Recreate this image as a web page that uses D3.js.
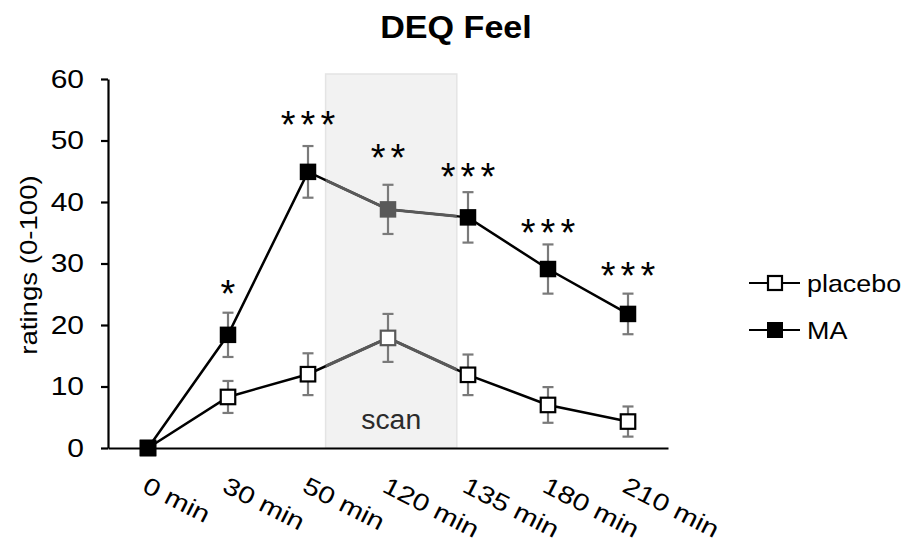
<!DOCTYPE html>
<html>
<head>
<meta charset="utf-8">
<script src="https://cdn.jsdelivr.net/npm/d3@7"></script>
<style>
  body { margin: 0; background: #fff; }
  svg { display: block; font-family: "Liberation Sans", Arial, sans-serif; }
</style>
</head>
<body>
<svg id="chart" width="913" height="546"></svg>
<script>
// data (means and error bars)
var categories = ["0 min", "30 min", "50 min", "120 min", "135 min", "180 min", "210 min"];
var placebo    = [0, 8.3, 12.0, 17.9, 11.9, 7.0, 4.3];
var placeboErr = [0, 2.6, 3.4, 3.9, 3.3, 2.9, 2.45];
var ma         = [0, 18.4, 44.9, 38.8, 37.5, 29.1, 21.8];
var maErr      = [0, 3.6, 4.2, 4.0, 4.1, 4.0, 3.3];
var sigLabels  = ["", "*", "***", "**", "***", "***", "***"];
var sigLevels  = [null, 26.3, 53.9, 48.5, 45.4, 36.3, 29.3];
var yTicks     = [0, 10, 20, 30, 40, 50, 60];
var scanFrom = "50 min", scanTo = "135 min";

var margin = {top: 79, right: 245, bottom: 98, left: 108};
var width = 913 - margin.left - margin.right;   // 560
var height = 546 - margin.top - margin.bottom;  // 369

var svg = d3.select('#chart');

var x = d3.scaleBand()
  .domain(categories)
  .range([margin.left, margin.left + width]);
var cx = function(c) { return x(c) + x.bandwidth() / 2; };

var y = d3.scaleLinear()
  .domain([0, 60])
  .range([margin.top + height, margin.top]);

var step = x.step();
var scanX0 = cx(scanFrom) + step * 0.22;
var scanX1 = cx(scanTo) - step * 0.14;

// scan window
svg.append('rect')
  .attr('x', scanX0)
  .attr('y', y(60) - 5)
  .attr('width', scanX1 - scanX0)
  .attr('height', y(0) - y(60) + 5)
  .style('fill', '#f2f2f2')
  .style('stroke', '#e4e4e4')
  .style('stroke-width', 1.5);

svg.append('text')
  .attr('transform', 'translate(' + ((scanX0 + scanX1) / 2) + ',429) scale(1.05,1)')
  .attr('text-anchor', 'middle')
  .style('font-size', '27px')
  .style('fill', '#2b2b2b')
  .text('scan');

svg.append('clipPath').attr('id', 'scanClip')
  .append('rect')
  .attr('x', scanX0).attr('y', 0)
  .attr('width', scanX1 - scanX0).attr('height', 546);

// y axis
var yAxis = d3.axisLeft(y).tickValues(yTicks).tickSize(7).tickSizeOuter(0);
var gy = svg.append('g')
  .attr('transform', 'translate(' + margin.left + ',0)')
  .call(yAxis);
gy.select('.domain').style('stroke-width', 2.2);
gy.selectAll('.tick line').style('stroke-width', 2.2);
gy.selectAll('.tick text')
  .attr('x', 0)
  .attr('transform', 'translate(-24,0) scale(1.2,1)')
  .style('font-size', '25px')
  .style('font-family', '"Liberation Sans", Arial, sans-serif')
  .style('fill', '#000');

// x axis
var xAxis = d3.axisBottom(x).tickSize(0).tickSizeOuter(0);
var gx = svg.append('g')
  .attr('transform', 'translate(0,' + (margin.top + height) + ')')
  .call(xAxis);
gx.select('.domain').style('stroke-width', 2.2);
gx.selectAll('.tick text')
  .attr('x', 0).attr('y', 0).attr('dy', null)
  .attr('text-anchor', 'start')
  .attr('transform', 'translate(-7,43) rotate(27) scale(1.22,1)')
  .style('font-size', '24px')
  .style('font-family', '"Liberation Sans", Arial, sans-serif')
  .style('fill', '#000');

// axis title
svg.append('text')
  .attr('transform', 'translate(37,265) rotate(-90) scale(1.2,1)')
  .attr('text-anchor', 'middle')
  .style('font-size', '23px')
  .text('ratings (0-100)');

// chart title
svg.append('text')
  .attr('transform', 'translate(456,38) scale(1.1,1)')
  .attr('text-anchor', 'middle')
  .style('font-size', '31px')
  .style('font-weight', 'bold')
  .text('DEQ Feel');

var inScan = function(c) { var p = cx(c); return p > scanX0 && p < scanX1; };
var line = d3.line().x(function(d) { return cx(d.c); }).y(function(d) { return y(d.v); });

function drawSeries(values, errs, filled) {
  var pts = categories.map(function(c, i) { return {c: c, v: values[i], e: errs[i]}; });

  svg.append('path').datum(pts)
    .attr('d', line)
    .style('fill', 'none').style('stroke', '#000').style('stroke-width', 2.5);
  svg.append('path').datum(pts)
    .attr('d', line)
    .attr('clip-path', 'url(#scanClip)')
    .style('fill', 'none').style('stroke', '#595959').style('stroke-width', 3);

  var eb = svg.append('g').selectAll('g')
    .data(pts.filter(function(d) { return d.e > 0; }))
    .enter().append('g')
    .style('stroke', '#7a7a7a').style('stroke-width', 2.2);
  eb.append('line')
    .attr('x1', d => cx(d.c)).attr('x2', d => cx(d.c))
    .attr('y1', d => y(d.v + d.e)).attr('y2', d => y(d.v - d.e));
  eb.append('line')
    .attr('x1', d => cx(d.c) - 5.5).attr('x2', d => cx(d.c) + 5.5)
    .attr('y1', d => y(d.v + d.e)).attr('y2', d => y(d.v + d.e));
  eb.append('line')
    .attr('x1', d => cx(d.c) - 5.5).attr('x2', d => cx(d.c) + 5.5)
    .attr('y1', d => y(d.v - d.e)).attr('y2', d => y(d.v - d.e));

  var s = filled ? 16.5 : 14.5;
  svg.append('g').selectAll('rect')
    .data(pts)
    .enter().append('rect')
    .attr('x', d => cx(d.c) - s / 2)
    .attr('y', d => y(d.v) - s / 2)
    .attr('width', s).attr('height', s)
    .style('fill', d => filled ? (inScan(d.c) ? '#595959' : '#000') : '#fff')
    .style('stroke', d => filled ? 'none' : (inScan(d.c) ? '#595959' : '#000'))
    .style('stroke-width', 2.2);
}

drawSeries(placebo, placeboErr, false);
drawSeries(ma, maErr, true);

// significance stars
svg.append('g').selectAll('text')
  .data(categories.map(function(c, i) { return {c: c, s: sigLabels[i], v: sigLevels[i]}; })
    .filter(d => d.s))
  .enter().append('text')
  .attr('x', d => cx(d.c) + 2.5)
  .attr('y', d => y(d.v) + 21)
  .attr('text-anchor', 'middle')
  .style('font-size', '38px')
  .style('letter-spacing', '5px')
  .text(d => d.s);

// legend
var legend = [
  {name: 'placebo', filled: false, y: 283},
  {name: 'MA', filled: true, y: 330}
];
var lg = svg.append('g').selectAll('g').data(legend).enter().append('g');
lg.append('line')
  .attr('x1', 749).attr('x2', 800)
  .attr('y1', d => d.y).attr('y2', d => d.y)
  .style('stroke', '#000').style('stroke-width', 2.2);
lg.append('rect')
  .attr('x', d => 775 - (d.filled ? 8 : 7))
  .attr('y', d => d.y - (d.filled ? 8 : 7))
  .attr('width', d => d.filled ? 16 : 14)
  .attr('height', d => d.filled ? 16 : 14)
  .style('fill', d => d.filled ? '#000' : '#fff')
  .style('stroke', d => d.filled ? 'none' : '#000')
  .style('stroke-width', 2.2);
lg.append('text')
  .attr('transform', d => 'translate(807,' + (d.y + 9) + ') scale(1.12,1)')
  .style('font-size', '24px')
  .text(d => d.name);
</script>
</body>
</html>
